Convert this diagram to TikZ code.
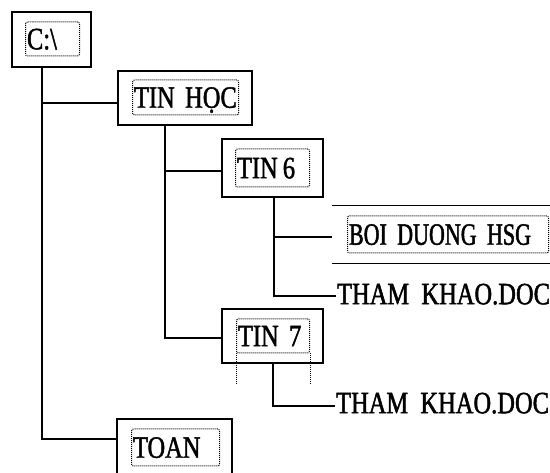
\documentclass[tikz,border=0pt]{standalone}
\usepackage{fontspec}
\newfontfamily\dosfont[FakeStretch=0.79,FakeBold=1.5]{Liberation Serif}
\newfontfamily\dosnarrow[FakeStretch=0.71,FakeBold=1.5]{Liberation Serif}

\begin{document}
\begin{tikzpicture}[x=1pt,y=-1pt,line width=1.2pt]

  \tikzstyle{every node}=[font=\dosfont\fontsize{31}{31}\selectfont,text height=20.5,text depth=0]
  \tikzstyle{folder}=[rectangle,draw,line width=1.2pt,inner sep=0pt]
  \tikzstyle{tag}=[rectangle,draw,dash pattern=on 1pt off 1pt,line width=1pt,rounded corners=2pt,
                   anchor=west,align=left,inner xsep=1.5pt,inner ysep=0pt]
  \tikzstyle{file}=[anchor=west,inner sep=0.5pt]

  \useasboundingbox (0,0) rectangle (550,473);
  \clip (0,0) rectangle (550,473);

  \node[folder,minimum width=79,minimum height=55]  (root) at (51.5,39.5) {};
  \node[tag,text width=51,minimum height=34]         (rootname) at (25,39) {C:\textbackslash};
  \node[folder,minimum width=134,minimum height=54] (hoc)  at (185,98)    {};
  \node[tag,text width=103,minimum height=35]        (hocname) at (132,97.5) {TIN HỌC};
  \node[folder,minimum width=101,minimum height=58] (tin6) at (272.5,168) {};
  \node[tag,text width=71,minimum height=38]         (tin6name) at (235,168) {TIN\hspace{5pt}6};
  \node[minimum width=217,minimum height=57,inner sep=0pt] (boi) at (441.5,234.5) {};
  \node[tag,text width=198,minimum height=37,font=\dosnarrow\fontsize{31}{31}\selectfont]
                                                     (boiname) at (347,234.5) {BOI DUONG HSG};
  \node[file]                                        (doc1) at (336,294) {THAM~~KHAO.DOC};
  \node[folder,minimum width=101,minimum height=54] (tin7) at (272.5,336) {};
  \node[tag,text width=70,minimum height=34]         (tin7name) at (236,336) {TIN 7};
  \node[file]                                        (doc2) at (335,403) {THAM~~KHAO.DOC};
  \node[folder,minimum width=115,minimum height=60] (toan) at (174.5,449) {};
  \node[tag,text width=85,minimum height=37]         (toanname) at (131,447.5) {TOAN};

  % lines above and below BOI DUONG HSG
  \draw (boi.north west) -- (boi.north east);
  \draw (boi.south west) -- (boi.south east);
  % TIN 7 frame runs on below the box
  \draw[dash pattern=on 1pt off 1pt,line width=1pt] (tin7name.south west) -- ++(0,31);
  \draw[dash pattern=on 1pt off 1pt,line width=1pt] (tin7name.south east) -- ++(0,31);

  \coordinate (j1) at (42,103);
  \coordinate (j2) at (42,439);
  \coordinate (k1) at (165,171);
  \coordinate (k2) at (165,338);
  \coordinate (m1) at (274,237);
  \coordinate (m2) at (274,296);
  \coordinate (n1) at (273,406);

  \draw (root.south -| j1) -- (j2) -- (toan.west |- j2);
  \draw (j1) -- (hoc.west |- j1);
  \draw (hoc.south -| k1) -- (k2) -- (tin7.west |- k2);
  \draw (k1) -- (tin6.west |- k1);
  \draw (tin6.south -| m1) -- (m2) -- (doc1.west |- m2);
  \draw (m1) -- (boi.west |- m1);
  \draw (tin7.south -| n1) -- (n1) -- (doc2.west |- n1);
\end{tikzpicture}
\end{document}
